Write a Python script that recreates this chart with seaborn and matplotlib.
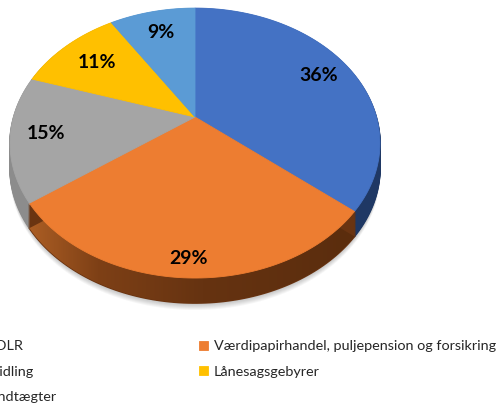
import numpy as np
import matplotlib
matplotlib.use('Agg')
import matplotlib.pyplot as plt
import matplotlib.transforms as mtransforms
from matplotlib.path import Path
from matplotlib.colors import LinearSegmentedColormap
import seaborn as sns

sns.set_theme(style='white')
plt.rcParams['font.family'] = ['Lato', 'DejaVu Sans']

categories = ['Provision fra DLR',
              'Værdipapirhandel, puljepension og forsikring',
              'Betalingsformidling',
              'Lånesagsgebyrer',
              'Øvrige gebyrindtægter']
shares = [36, 29, 15, 11, 9]
colors = ['#4472C4', '#ED7D31', '#A5A5A5', '#FFC000', '#5B9BD5']
side_colors = ['#1F3864', '#6A3411', '#8C8C8C', '#8A6800', '#2F5F8C']


class Tilt(mtransforms.Transform):
    # perspective tilt of the pie plane (far side shrinks)
    input_dims = output_dims = 2

    def __init__(self, k, c):
        super().__init__()
        self.k = k
        self.c = c

    def transform_non_affine(self, v):
        v = np.atleast_2d(np.asarray(v, float))
        d = 1 + self.k * v[:, 1]
        return np.column_stack([v[:, 0] / d, self.c * v[:, 1] / d])

    def transform_path_non_affine(self, path):
        t = np.linspace(0, 1, 24)
        pts = [seg(t) for seg, code in path.iter_bezier()]
        verts = np.vstack(pts)
        verts = np.vstack([verts, verts[:1]])
        return Path(self.transform_non_affine(verts), closed=True)


fig = plt.figure(figsize=(5, 4.05), dpi=100)
ax = fig.add_axes([0, 0, 1, 1])
tilt = Tilt(0.193, 0.716)
depth = 0.25  # inches

# soft shadow under the pie
for j in range(7, 0, -1):
    off = mtransforms.ScaledTranslation(0, -depth - j / 100, fig.dpi_scale_trans)
    ws, _ = ax.pie(shares, colors=['black'] * len(shares), startangle=90,
                   counterclock=False, wedgeprops=dict(linewidth=0, alpha=0.035))
    for w in ws:
        w.set_zorder(0.5)
        w.set_transform(tilt + ax.transData + off)

# side wall: stacked copies shifted down
n_layers = 26
deepest = None
for j in range(n_layers, 0, -1):
    off = mtransforms.ScaledTranslation(0, -depth * j / n_layers, fig.dpi_scale_trans)
    ws, _ = ax.pie(shares, colors=side_colors, startangle=90, counterclock=False,
                   wedgeprops=dict(linewidth=1.2))
    for w, c in zip(ws, side_colors):
        w.set_edgecolor(c)
        w.set_zorder(1)
        w.set_transform(tilt + ax.transData + off)
    if deepest is None:
        deepest = ws

# brown shading on the orange side wall
shade = LinearSegmentedColormap.from_list(
    'side', [(0, '#AC5E24'), (0.2, '#7E4016'), (0.5, '#663311'), (1, '#592C0D')])
img = ax.imshow(np.linspace(0, 1, 256)[None, :], cmap=shade, aspect='auto',
                extent=(-0.92, 1.0, -1.3, -0.2), zorder=1.5)
img.set_clip_path(deepest[1])

wedges, _, autotexts = ax.pie(shares, colors=colors, startangle=90, counterclock=False,
                              autopct='%.0f%%',
                              wedgeprops=dict(linewidth=0.6),
                              textprops=dict(fontsize=14, fontweight='bold', color='black'))
for w, c in zip(wedges, colors):
    w.set_edgecolor(c)
    w.set_zorder(2)
    w.set_transform(tilt + ax.transData)

label_r = [0.80, 0.90, 0.81, 0.74, 0.77]
for w, t, r in zip(wedges, autotexts, label_r):
    a = np.deg2rad((w.theta1 + w.theta2) / 2)
    t.set_position((r * np.cos(a), r * np.sin(a)))
    t.set_transform(tilt + ax.transData)
    t.set_zorder(3)

ax.set_aspect('auto')
ax.set_xlim(-195 / 181.5, 305 / 181.5)
ax.set_ylim((117 - 405) / 181.5, 117 / 181.5)
ax.axis('off')

order = [0, 2, 4, 1, 3]
fig.legend([wedges[i] for i in order], [categories[i] for i in order],
           ncol=2, loc='upper right', bbox_to_anchor=(1.0, 0.17),
           frameon=False, fontsize=10.4, handlelength=0.6, handleheight=0.6,
           handletextpad=0.4, columnspacing=9.9, labelspacing=0.93,
           borderaxespad=0.1, borderpad=0.2)

fig.savefig('out.png', dpi=100, facecolor='white')
